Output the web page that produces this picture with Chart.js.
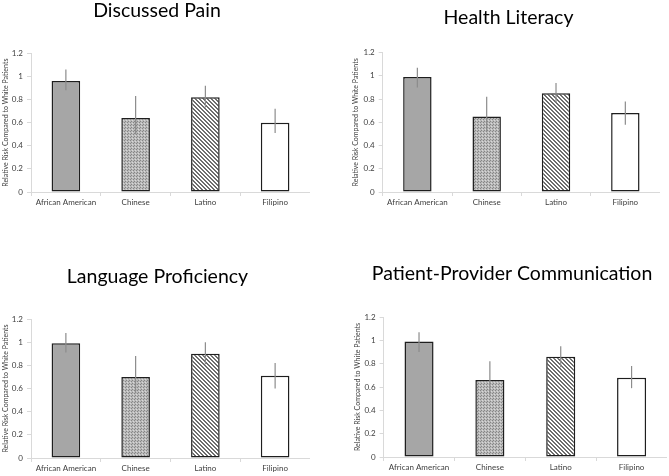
<!DOCTYPE html>
<html>
<head>
<meta charset="utf-8">
<script src="https://cdn.jsdelivr.net/npm/chart.js@4"></script>
<style>
	html, body { margin: 0; padding: 0; background: #fff; overflow: hidden; }
	body { width: 669px; height: 476px; position: relative; }
	canvas { position: absolute; }
</style>
</head>
<body>
<canvas id="c1"></canvas>
<canvas id="c2"></canvas>
<canvas id="c3"></canvas>
<canvas id="c4"></canvas>
<script>
const categories = ['African American', 'Chinese', 'Latino', 'Filipino'];
const panelTitles = ['Discussed Pain', 'Health Literacy', 'Language Proficiency', 'Patient-Provider Communication'];
const yAxisTitle = 'Relative Risk Compared to White Patients';
const yMin = 0, yMax = 1.2, yStep = 0.2;

// relative risk + error bar ends, per panel
const painRR = [0.96, 0.64, 0.82, 0.60];
const painLow = [0.88, 0.50, 0.73, 0.51];
const painHigh = [1.06, 0.83, 0.92, 0.72];

const literacyRR = [0.99, 0.65, 0.85, 0.68];
const literacyLow = [0.90, 0.52, 0.77, 0.58];
const literacyHigh = [1.07, 0.82, 0.94, 0.78];

const languageRR = [0.99, 0.70, 0.90, 0.71];
const languageLow = [0.91, 0.56, 0.81, 0.60];
const languageHigh = [1.08, 0.88, 1.00, 0.82];

const commRR = [0.99, 0.66, 0.86, 0.68];
const commLow = [0.90, 0.53, 0.77, 0.59];
const commHigh = [1.07, 0.82, 0.95, 0.78];

// where each plot sits on the page (chart area edges, title centre, y title centre)
const layouts = [
	{ id: 'c1', top: 0, left: 31, right: 310, areaTop: 53.3, areaBottom: 191.7, titleX: 157, titleY: 10.7, yTitleX: 5.7 },
	{ id: 'c2', top: 0, left: 382.7, right: 660, areaTop: 52.7, areaBottom: 191.7, titleX: 508.5, titleY: 18, yTitleX: 355.7 },
	{ id: 'c3', top: 238, left: 31, right: 310, areaTop: 319, areaBottom: 458, titleX: 157.5, titleY: 276.5, yTitleX: 5.7 },
	{ id: 'c4', top: 238, left: 383.3, right: 666.7, areaTop: 317, areaBottom: 457.3, titleX: 511.7, titleY: 273.3, yTitleX: 357.7 }
];

const panels = [
	[painRR, painLow, painHigh],
	[literacyRR, literacyLow, literacyHigh],
	[languageRR, languageLow, languageHigh],
	[commRR, commLow, commHigh]
];

const FONT = 'Lato, "Open Sans", sans-serif';
const titleSize = 19.5;
const xAxisHeight = 22;
const sideRoom = 12;

function makePattern(w, h, paint) {
	var c = document.createElement('canvas');
	c.width = w;
	c.height = h;
	var g = c.getContext('2d');
	paint(g);
	return g.createPattern(c, 'repeat');
}

// stippled grey for Chinese
var dots = makePattern(3, 3, function (g) {
	g.fillStyle = '#bababa';
	g.fillRect(0, 0, 3, 3);
	g.fillStyle = '#868686';
	g.fillRect(1, 1, 1, 1);
	g.fillRect(0, 2, 1, 1);
	g.fillStyle = '#d8d8d8';
	g.fillRect(2, 0, 1, 1);
});
// back-slash hatch for Latino
var stripes = makePattern(4, 4, function (g) {
	g.fillStyle = '#ffffff';
	g.fillRect(0, 0, 4, 4);
	g.fillStyle = '#6e6e6e';
	for (var x = 0; x < 4; x++) {
		for (var y = 0; y < 4; y++) {
			if (((x - y) % 4 + 4) % 4 < 2) g.fillRect(x, y, 1, 1);
		}
	}
});
const barFills = ['#a6a6a6', dots, stripes, '#ffffff'];

const errorBars = {
	id: 'errorBars',
	afterDatasetsDraw(chart, args, opts) {
		var meta = chart.getDatasetMeta(0);
		var ys = chart.scales.y;
		var ctx = chart.ctx;
		ctx.save();
		ctx.strokeStyle = '#8c8c8c';
		ctx.lineWidth = 1.2;
		meta.data.forEach(function (bar, i) {
			ctx.beginPath();
			ctx.moveTo(bar.x, ys.getPixelForValue(opts.low[i]));
			ctx.lineTo(bar.x, ys.getPixelForValue(opts.high[i]));
			ctx.stroke();
		});
		ctx.restore();
	}
};

function drawPanel(n) {
	var lay = layouts[n];
	var rr = panels[n][0], low = panels[n][1], high = panels[n][2];

	// full-width title is centred between the y axis box left and chart right
	var axisLeft = 2 * lay.titleX - lay.right;
	var canvasLeft = axisLeft - sideRoom;
	var width = Math.round(lay.right - canvasLeft);
	var height = Math.round(lay.areaBottom - lay.top + xAxisHeight);
	var yAxisWidth = lay.left - axisLeft;
	var titlePadTop = lay.titleY - lay.top - titleSize / 2;
	var titlePadBottom = lay.areaTop - lay.top - titlePadTop - titleSize;
	var yTitlePad = lay.yTitleX - axisLeft - 3.5;

	var el = document.getElementById(lay.id);
	el.style.left = canvasLeft + 'px';
	el.style.top = lay.top + 'px';
	el.width = width;
	el.height = height;
	el.style.width = width + 'px';
	el.style.height = height + 'px';

	new Chart(el, {
		type: 'bar',
		data: {
			labels: categories,
			datasets: [{
				data: rr,
				backgroundColor: barFills,
				borderColor: '#1e1e1e',
				borderWidth: 1.5,
				borderSkipped: false,
				barPercentage: 0.41,
				categoryPercentage: 1
			}]
		},
		options: {
			responsive: false,
			devicePixelRatio: 1,
			animation: false,
			layout: { padding: { left: sideRoom, right: width - (lay.right - canvasLeft), top: 0, bottom: 0 } },
			plugins: {
				legend: { display: false },
				tooltip: { enabled: false },
				title: {
					display: true,
					text: panelTitles[n],
					color: '#000',
					font: { family: FONT, size: titleSize, weight: 'normal', lineHeight: 1 },
					padding: { top: titlePadTop, bottom: titlePadBottom }
				},
				errorBars: { low: low, high: high }
			},
			scales: {
				x: {
					offset: true,
					grid: { display: true, offset: true, drawOnChartArea: false, tickLength: 4, color: '#d9d9d9' },
					border: { color: '#d9d9d9' },
					ticks: { color: '#404040', font: { family: FONT, size: 8 }, padding: 2, maxRotation: 0 },
					afterFit: function (s) { s.height = xAxisHeight; }
				},
				y: {
					min: yMin,
					max: yMax,
					ticks: {
						stepSize: yStep,
						color: '#404040',
						font: { family: FONT, size: 8 },
						padding: 4,
						callback: function (v) { return String(+v.toFixed(1)); }
					},
					grid: { display: true, drawOnChartArea: false, tickLength: 4, color: '#d9d9d9' },
					border: { color: '#d9d9d9' },
					title: {
						display: true,
						text: yAxisTitle,
						color: '#404040',
						font: { family: FONT, size: 7, lineHeight: 1 },
						padding: { top: yTitlePad, bottom: 0 }
					},
					afterFit: function (s) { s.width = yAxisWidth; }
				}
			}
		},
		plugins: [errorBars]
	});
}

for (var i = 0; i < 4; i++) {
	drawPanel(i);
}
</script>
</body>
</html>
